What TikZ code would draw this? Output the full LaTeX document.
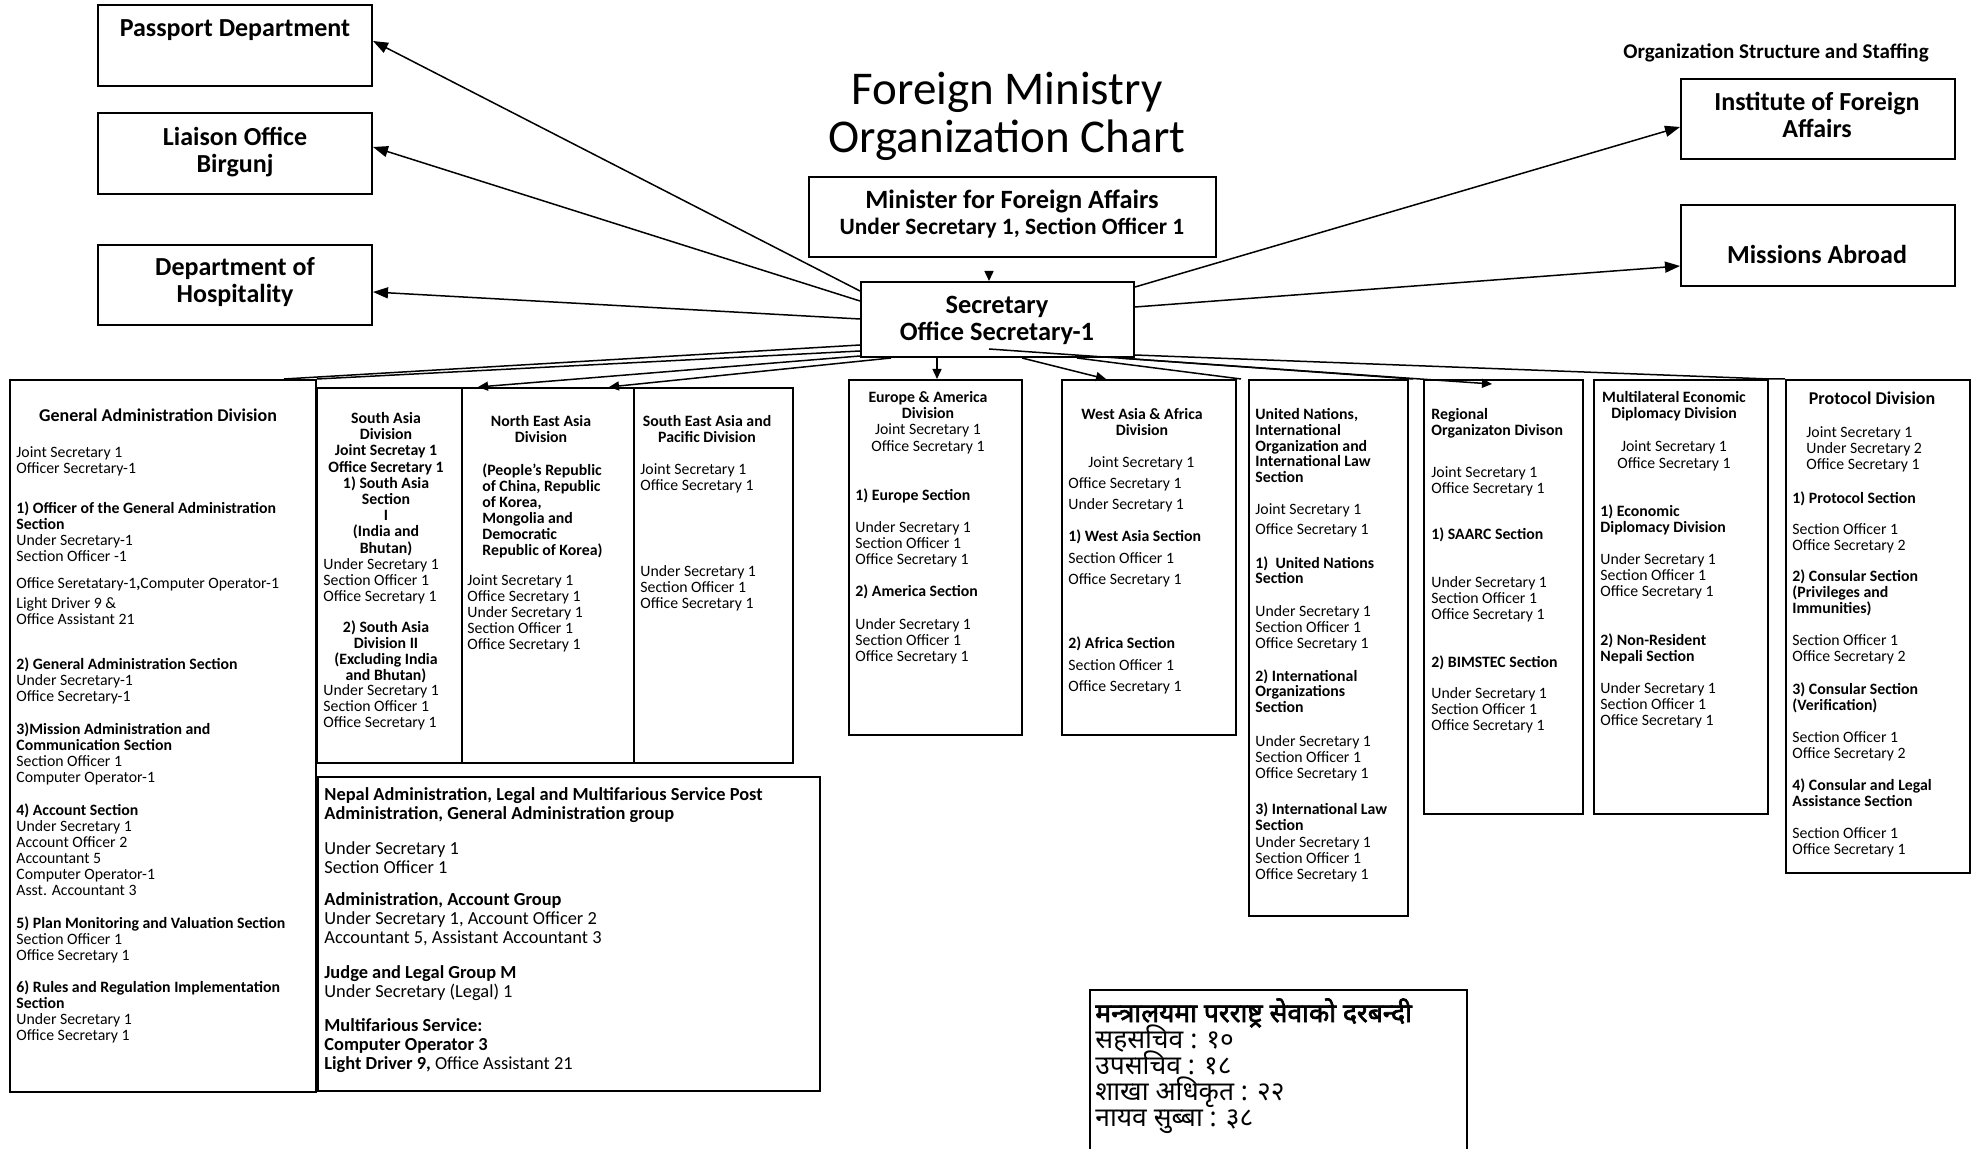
\documentclass[tikz,border=0pt]{standalone}
\usepackage{fontspec}
\setmainfont{Carlito}
\newfontfamily\devfont[Script=Devanagari]{Noto Sans}
\newfontfamily\devfontb[Script=Devanagari,FakeBold=2.5]{Noto Sans}
\newcommand\devsetup{\devfont\fontsize{13.2}{13}\selectfont\lineskiplimit=-20pt\relax}
\usetikzlibrary{arrows.meta,fit,calc}
\begin{document}
\begin{tikzpicture}[x=0.5pt,y=-0.5pt,
  box/.style={draw, line width=1pt, inner sep=0pt},
  txt/.style={inner sep=0pt, align=left, anchor=north west, font=\fontsize{7.9}{8}\selectfont},
  ctxt/.style={inner sep=0pt, align=center, anchor=north, font=\fontsize{7.9}{8.1}\selectfont},
  big/.style={inner sep=0pt, align=center, anchor=north, font=\fontsize{13}{13.5}\selectfont\bfseries},
  conn/.style={line width=0.75pt},
  arr/.style={line width=0.75pt, -{Triangle[length=7.5pt,width=5.5pt]}},
  sarr/.style={line width=0.75pt, -{Triangle[length=5pt,width=4.5pt]}}]
\fill[white] (0,0) rectangle (1973,1149);
\useasboundingbox (0,0) rectangle (1973,1149);

% title
\node[inner sep=0pt, align=center, anchor=north, font=\fontsize{23.5}{24}\selectfont] (title) at (1007,72) {Foreign Ministry\\Organization Chart};
\node[inner sep=0pt, font=\fontsize{10.5}{11}\selectfont\bfseries] (subt) at (1776,53) {Organization Structure and Staffing};

% top boxes
\node[box, fit={(98,5) (372,86)}] (pass) {};
\node[big] (pass-t) at (235,19) {Passport Department};
\node[box, fit={(98,113) (372,194)}] (liai) {};
\node[big] (liai-t) at (235,127) {Liaison Office\\Birgunj};
\node[box, fit={(98,245) (372,325)}] (hosp) {};
\node[big] (hosp-t) at (235,257) {Department of\\Hospitality};
\node[box, fit={(1681,79) (1955,159)}] (inst) {};
\node[big] (inst-t) at (1817,92) {Institute of Foreign\\Affairs};
\node[box, fit={(1681,205) (1955,286)}] (miss) {};
\node[big] (miss-t) at (1817,245) {Missions Abroad};
\node[box, fit={(809,177) (1216,257)}] (mini) {};
\node[inner sep=0pt, align=center, anchor=north, font=\fontsize{13.2}{13}\selectfont\bfseries] (mini-t) at (1012,190) {Minister for Foreign Affairs\\{\fontsize{11.7}{13}\selectfont Under Secretary 1, Section Officer 1}};
\node[box, fit={(861,282) (1134,357)}] (sec) {};
\node[inner sep=0pt, align=center, anchor=north, font=\fontsize{13.2}{13.5}\selectfont\bfseries] (sec-t) at (997,296) {Secretary\\Office Secretary-1};

% General Administration
\node[box, fit={(10,380) (316,1092)}] (gad) {};
\node[inner sep=0pt, anchor=north, font=\fontsize{9}{10}\selectfont\bfseries] (gad-h) at (158,408) {General Administration Division};
\node[txt] (gad-t) at (16,446) {Joint Secretary 1\\
Officer Secretary-1\\[12pt]
\textbf{1) Officer of the General Administration}\\
\textbf{Section}\\
Under Secretary-1\\
Section Officer -1\\[5.5pt]
Office Seretatary-1\textbf{,}Computer Operator-1\\[2pt]
Light Driver 9 \&\\
Office Assistant 21\\[14.5pt]
\textbf{2) General Administration Section}\\
Under Secretary-1\\
Office Secretary-1\\[8.5pt]
\textbf{3)Mission Administration and}\\
\textbf{Communication Section}\\
Section Officer 1\\
Computer Operator-1\\[8.5pt]
\textbf{4) Account Section}\\
Under Secretary 1\\
Account Officer 2\\
Accountant 5\\
Computer Operator-1\\
Asst. Accountant 3\\[8.5pt]
\textbf{5) Plan Monitoring and Valuation Section}\\
Section Officer 1\\
Office Secretary 1\\[8pt]
\textbf{6) Rules and Regulation Implementation}\\
\textbf{Section}\\
Under Secretary 1\\
Office Secretary 1};

% South Asia
\node[box, fit={(317,388) (462,763)}] (sa) {};
\node[ctxt, font=\fontsize{7.9}{8.1}\selectfont\bfseries] (sa-a) at (386,412) {South Asia\\Division\\Joint Secretay 1\\Office Secretary 1\\1) South Asia\\Section\\I\\(India and\\Bhutan)};
\node[txt] (sa-b) at (323,558) {Under Secretary 1\\Section Officer 1\\Office Secretary 1};
\node[ctxt, font=\fontsize{7.9}{8.1}\selectfont\bfseries] (sa-c) at (386,620) {2) South Asia\\Division II\\(Excluding India\\and Bhutan)};
\node[txt] (sa-d) at (323,684) {Under Secretary 1\\Section Officer 1\\Office Secretary 1};

% North East Asia
\node[box, fit={(462,388) (634,763)}] (ne) {};
\node[ctxt, font=\fontsize{7.9}{8.1}\selectfont\bfseries] (ne-a) at (541,415) {North East Asia\\Division};
\node[txt, font=\fontsize{7.9}{8}\selectfont\bfseries] (ne-b) at (482,463) {(People's Republic\\of China, Republic\\of Korea,\\Mongolia and\\Democratic\\Republic of Korea)};
\node[txt] (ne-c) at (467,574) {Joint Secretary 1\\Office Secretary 1\\Under Secretary 1\\Section Officer 1\\Office Secretary 1};

% South East Asia
\node[box, fit={(634,388) (793,763)}] (se) {};
\node[ctxt, font=\fontsize{7.9}{8.1}\selectfont\bfseries] (se-a) at (707,415) {South East Asia and\\Pacific Division};
\node[txt] (se-b) at (640,463) {Joint Secretary 1\\Office Secretary 1};
\node[txt] (se-c) at (640,565) {Under Secretary 1\\Section Officer 1\\Office Secretary 1};

% Nepal Administration box
\node[box, fit={(318,777) (820,1091)}] (nepa) {};
\node[txt, font=\fontsize{9.2}{9.5}\selectfont] (nepa-t) at (324,787) {\textbf{Nepal Administration, Legal and Multifarious Service Post}\\
\textbf{Administration, General Administration group}\\[8pt]
Under Secretary 1\\
Section Officer 1\\[6.5pt]
\textbf{Administration, Account Group}\\
Under Secretary 1, Account Officer 2\\
Accountant 5, Assistant Accountant 3\\[8pt]
\textbf{Judge and Legal Group M}\\
Under Secretary (Legal) 1\\[7.5pt]
\textbf{Multifarious Service:}\\
\textbf{Computer Operator 3}\\
\textbf{Light Driver 9,} Office Assistant 21};

% Europe & America
\node[box, fit={(849,380) (1022,735)}] (eu) {};
\node[ctxt] (eu-a) at (928,391) {\textbf{Europe \& America}\\\textbf{Division}\\Joint Secretary 1\\Office Secretary 1};
\node[txt] (eu-b) at (855,488) {\textbf{1) Europe Section}\\[8pt]
Under Secretary 1\\Section Officer 1\\Office Secretary 1\\[8pt]
\textbf{2) America Section}\\[8.5pt]
Under Secretary 1\\Section Officer 1\\Office Secretary 1};

% West Asia & Africa
\node[box, fit={(1062,380) (1236,735)}] (wa) {};
\node[ctxt, font=\fontsize{7.9}{8.1}\selectfont\bfseries] (wa-a) at (1142,408) {West Asia \& Africa\\Division};
\node[txt] (wa-b) at (1088,456) {Joint Secretary 1};
\node[txt, font=\fontsize{7.9}{10.75}\selectfont] (wa-c) at (1068,477) {Office Secretary 1\\Under Secretary 1\\[5.25pt]
\textbf{1) West Asia Section}\\Section Officer 1\\Office Secretary 1\\[21.25pt]
\textbf{2) Africa Section}\\Section Officer 1\\Office Secretary 1};

% United Nations
\node[box, fit={(1249,380) (1408,916)}] (un) {};
\node[txt, font=\fontsize{7.9}{7.9}\selectfont] (un-t) at (1255,408) {\textbf{United Nations,}\\\textbf{International}\\\textbf{Organization and}\\\textbf{International Law}\\\textbf{Section}\\[8pt]
Joint Secretary 1\\[2pt]
Office Secretary 1\\[9pt]
\textbf{1)~~United Nations}\\\textbf{Section}\\[8.5pt]
Under Secretary 1\\Section Officer 1\\Office Secretary 1\\[8.5pt]
\textbf{2) International}\\\textbf{Organizations}\\\textbf{Section}\\[9pt]
Under Secretary 1\\Section Officer 1\\Office Secretary 1\\[10.5pt]
\textbf{3) International Law}\\\textbf{Section}\\[0.5pt]
Under Secretary 1\\Section Officer 1\\Office Secretary 1};

% Regional
\node[box, fit={(1424,380) (1583,814)}] (reg) {};
\node[txt] (reg-t) at (1431,408) {\textbf{Regional}\\\textbf{Organizaton Divison}\\[13pt]
Joint Secretary 1\\Office Secretary 1\\[15pt]
\textbf{1) SAARC Section}\\[16pt]
Under Secretary 1\\Section Officer 1\\Office Secretary 1\\[16pt]
\textbf{2) BIMSTEC Section}\\[7.5pt]
Under Secretary 1\\Section Officer 1\\Office Secretary 1};

% Multilateral
\node[box, fit={(1594,380) (1768,814)}] (ml) {};
\node[ctxt] (ml-a) at (1674,391) {\textbf{Multilateral Economic}\\\textbf{Diplomacy Division}\\[8.5pt]Joint Secretary 1\\Office Secretary 1};
\node[txt] (ml-b) at (1600,504) {\textbf{1) Economic}\\\textbf{Diplomacy Division}\\[8pt]
Under Secretary 1\\Section Officer 1\\Office Secretary 1\\[16.5pt]
\textbf{2) Non-Resident}\\\textbf{Nepali Section}\\[8pt]
Under Secretary 1\\Section Officer 1\\Office Secretary 1};

% Protocol
\node[box, fit={(1786,380) (1970,873)}] (pr) {};
\node[inner sep=0pt, anchor=north, font=\fontsize{9}{10}\selectfont\bfseries] (pr-h) at (1872,391) {Protocol Division};
\node[txt] (pr-a) at (1806,426) {Joint Secretary 1\\Under Secretary 2\\Office Secretary 1};
\node[txt] (pr-b) at (1792,491) {\textbf{1) Protocol Section}\\[7.5pt]
Section Officer 1\\Office Secretary 2\\[7.5pt]
\textbf{2) Consular Section}\\\textbf{(Privileges and}\\\textbf{Immunities)}\\[8pt]
Section Officer 1\\Office Secretary 2\\[8.5pt]
\textbf{3) Consular Section}\\\textbf{(Verification)}\\[8pt]
Section Officer 1\\Office Secretary 2\\[8pt]
\textbf{4) Consular and Legal}\\\textbf{Assistance Section}\\[8pt]
Section Officer 1\\Office Secretary 1};

% Nepali staffing box (cut at bottom)
\node[inner sep=0pt, fit={(1090,990) (1467,1149)}] (npl) {};
\draw[line width=1pt] (npl.south west) -- (npl.north west) -- (npl.north east) -- (npl.south east);
\node[txt, font=\devsetup] (npl-t) at (1095,998) {{\devfontb मन्त्रालयमा परराष्ट्र सेवाको दरबन्दी}\\सहसचिव : १०\\उपसचिव : १८\\शाखा अधिकृत : २२\\नायव सुब्बा : ३८};

% connectors from Secretary
\draw[arr] ($(sec.north west)+(0,10)$) -- ($(pass.north east)+(0,37)$);
\draw[arr] ($(sec.north west)+(0,20)$) -- ($(liai.north east)+(0,35)$);
\draw[arr] ($(sec.north west)+(0,38)$) -- ($(hosp.north east)+(0,48)$);
\draw[arr] ($(sec.north east)+(0,6)$) -- ($(inst.north west)+(0,49)$);
\draw[arr] ($(sec.north east)+(0,26)$) -- ($(miss.north west)+(0,62)$);
\draw[sarr] ($(mini.south west)+(181,13)$) -- ($(sec.north west)+(129,0)$);

\draw[conn] ($(sec.south west)+(0,-13)$) -- ($(gad.north east)+(-33,0)$);
\draw[conn] ($(sec.south west)+(0,-7)$) -- (gad.north east);
\draw[sarr] ($(sec.south west)+(0,-2)$) -- ($(ne.north west)+(17,0)$);
\draw[sarr] ($(sec.south west)+(31,0)$) -- ($(ne.north west)+(148,0)$);
\draw[sarr] ($(sec.south west)+(77,0)$) -- ($(eu.north west)+(89,0)$);
\draw[sarr] ($(sec.south west)+(162,0)$) -- ($(wa.north west)+(45,0)$);
\draw[conn] ($(sec.south west)+(217,0)$) -- ($(un.north west)+(-7,0)$);
\draw[conn] ($(sec.south west)+(259,0)$) -- ($(un.north east)+(4,0)$);
\draw[sarr] ($(sec.south west)+(129,-9)$) -- ($(reg.north west)+(69,5)$);
\draw[conn] ($(sec.south east)+(0,-3)$) -- (ml.north east) -- (pr.north west);
\end{tikzpicture}
\end{document}
